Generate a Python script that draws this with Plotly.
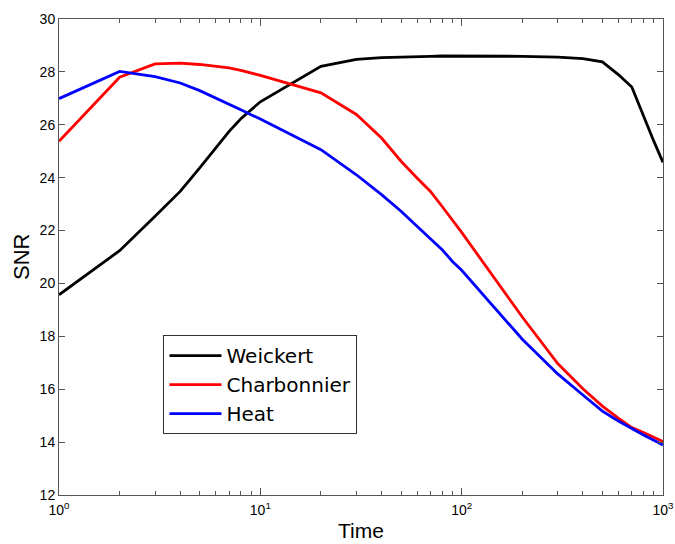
import plotly.graph_objects as go

time = [1, 2, 3, 4, 5, 6, 7, 8, 9, 10,
        20, 30, 40, 50, 60, 70, 80, 90, 100,
        200, 300, 400, 500, 600, 700, 800, 900, 1000]

weickert = [19.57, 21.24, 22.54, 23.48, 24.37, 25.12, 25.75, 26.23, 26.57, 26.87,
            28.21, 28.47, 28.54, 28.57, 28.58, 28.59, 28.6, 28.6, 28.6,
            28.59, 28.56, 28.5, 28.38, 27.9, 27.43, 26.33, 25.38, 24.58]

charbonnier = [25.38, 27.8, 28.3, 28.33, 28.28, 28.21, 28.15, 28.06, 27.96, 27.87,
               27.21, 26.39, 25.5, 24.62, 23.99, 23.48, 22.91, 22.41, 21.93,
               18.73, 16.97, 16.02, 15.36, 14.91, 14.55, 14.36, 14.18, 14.02]

heat = [26.99, 28.02, 27.82, 27.58, 27.29, 27.02, 26.79, 26.57, 26.38, 26.22,
        25.06, 24.11, 23.36, 22.73, 22.16, 21.69, 21.28, 20.83, 20.5,
        17.89, 16.58, 15.78, 15.17, 14.8, 14.5, 14.27, 14.07, 13.89]

series_names = ["Weickert", "Charbonnier", "Heat"]
series_colors = ["#000000", "#ff0000", "#0000ff"]

x_tickvals = [1, 10, 100, 1000]
x_ticktext = ["10<sup>0</sup>", "10<sup>1</sup>", "10<sup>2</sup>", "10<sup>3</sup>"]
x_minor = [m * d for d in (1, 10, 100) for m in range(2, 10)]
y_tickvals = list(range(12, 31, 2))

fig = go.Figure()
for name, ys, col in zip(series_names, [weickert, charbonnier, heat], series_colors):
    fig.add_trace(go.Scatter(x=time, y=ys, mode="lines", name=name,
                             line=dict(color=col, width=2.8)))

axis_common = dict(showline=True, linecolor="#555555", linewidth=1, mirror="ticks",
                   ticks="inside", tickcolor="#555555", showgrid=False, zeroline=False,
                   automargin=False,
                   tickfont=dict(family="Liberation Sans, Arial", size=14, color="black"))

fig.update_xaxes(type="log", range=[0, 3], tickvals=x_tickvals, ticktext=x_ticktext,
                 ticklen=7, ticklabelstandoff=2,
                 minor=dict(ticks="inside", ticklen=4, tickcolor="#555555", tickvals=x_minor, showgrid=False),
                 **axis_common)
fig.update_yaxes(range=[12, 30], tickvals=y_tickvals, ticklen=6,
                 **axis_common)

title_font = dict(family="Liberation Sans, Arial", size=21, color="black")
fig.add_annotation(text="Time", xref="paper", yref="paper", x=0.5, y=-0.074,
                   xanchor="center", yanchor="middle", showarrow=False, font=title_font)
fig.add_annotation(text="SNR", xref="paper", yref="paper", x=-0.063, y=0.5,
                   xanchor="center", yanchor="middle", showarrow=False, textangle=-90,
                   font=dict(family="Liberation Sans, Arial", size=22, color="black"))

fig.update_layout(
    width=675, height=544,
    margin=dict(l=59, r=12, t=19, b=49),
    plot_bgcolor="white", paper_bgcolor="white",
    showlegend=True,
    legend=dict(x=0.173, y=0.336, xanchor="left", yanchor="top",
                bgcolor="white", bordercolor="#333333", borderwidth=1,
                font=dict(family="DejaVu Sans", size=20, color="black"),
                tracegroupgap=0, itemwidth=52),
)

fig.write_html("out.html", config={"displayModeBar": False},
               post_script="document.body.style.margin='0';document.body.style.padding='0';")
